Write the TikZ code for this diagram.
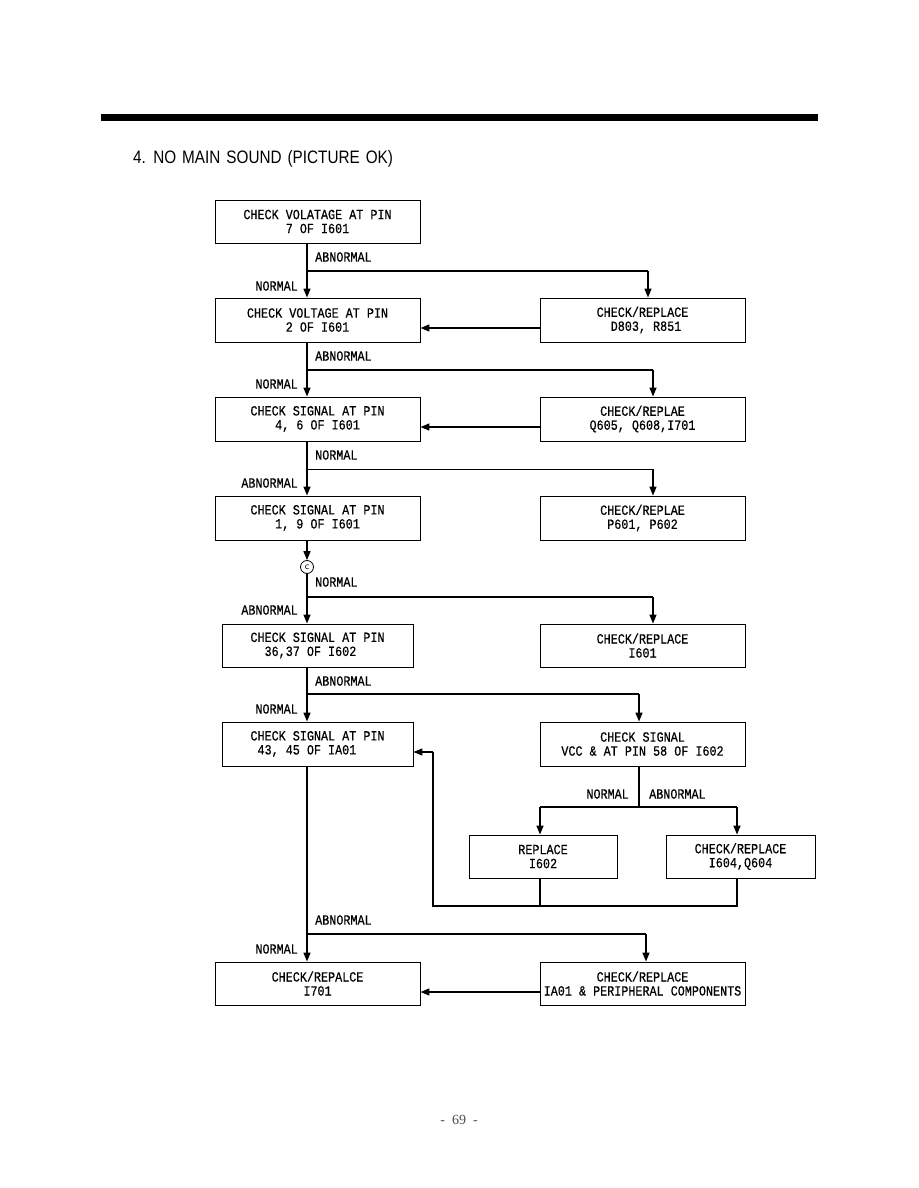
\documentclass[tikz,border=0pt]{standalone}
\usepackage{fontspec}
\usetikzlibrary{arrows.meta}
\newfontfamily\monofnt[FakeStretch=0.84,FakeBold=0.5]{Liberation Mono}
\newfontfamily\titlefnt[FakeStretch=0.85,WordSpace=1.4]{Liberation Sans}
\newfontfamily\pagefnt{Liberation Serif}
\begin{document}
\begin{tikzpicture}[x=1pt,y=-1pt,
  fbox/.style={draw, line width=0.9pt, inner sep=0pt, align=center,
    minimum width=205pt, minimum height=43pt,
    font=\monofnt\fontsize{14}{14}\selectfont},
  lbl/.style={inner sep=0pt, font=\monofnt\fontsize{14}{14}\selectfont},
  flow/.style={line width=1.5pt},
  arr/.style={line width=1.5pt, -{Triangle[length=9pt,width=7pt]}},
  thinflow/.style={line width=0.8pt}]
\useasboundingbox (0,0) rectangle (918,1188);
% top bar and title
\fill (101,114) rectangle (818,121);
\node[anchor=west, inner sep=0pt, font=\titlefnt\fontsize{18}{20}\selectfont] (title) at (133,159) {4. NO MAIN SOUND (PICTURE OK)};
% boxes
\node[fbox] (b1) at (317.5,221.5) {CHECK VOLATAGE AT PIN\\7 OF I601};
\node[fbox, minimum height=44pt] (b2) at (317.5,320) {CHECK VOLTAGE AT PIN\\2 OF I601};
\node[fbox, minimum height=44pt] (r1) at (642.5,320) {CHECK/REPLACE\\\hphantom{0}D803, R851};
\node[fbox, minimum height=44pt] (b3) at (317.5,419) {CHECK SIGNAL AT PIN\\4, 6 OF I601};
\node[fbox, minimum height=44pt] (r2) at (642.5,419) {CHECK/REPLAE\\Q605, Q608,I701};
\node[fbox, minimum height=44pt] (b4) at (317.5,518) {CHECK SIGNAL AT PIN\\1, 9 OF I601};
\node[fbox, minimum height=44pt] (r3) at (642.5,518) {CHECK/REPLAE\\P601, P602};
\node[fbox, minimum width=191pt] (b5) at (317.5,645.5) {CHECK SIGNAL AT PIN\\36,37 OF I602\hphantom{00}};
\node[fbox] (r4) at (642.5,645.5) {CHECK/REPLACE\\I601};
\node[fbox, minimum width=191pt, minimum height=44pt] (b6) at (317.5,744) {CHECK SIGNAL AT PIN\\43, 45 OF IA01\hphantom{000}};
\node[fbox, minimum height=44pt] (r5) at (642.5,744) {CHECK SIGNAL\\VCC \& AT PIN 58 OF I602};
\node[fbox, minimum width=148pt] (r6) at (543,856.5) {REPLACE\\I602};
\node[fbox, minimum width=149pt] (r7) at (740.5,856.5) {CHECK/REPLACE\\I604,Q604};
\node[fbox] (b7) at (317.5,983.5) {CHECK/REPALCE\\I701};
\node[fbox] (r8) at (642.5,983.5) {CHECK/REPLACE\\IA01 \& PERIPHERAL COMPONENTS};
% shadow edges
\foreach \n in {b1,b2,r1,b3,r2,b4,r3,b5,r4,b6,r5,r6,r7,b7,r8}{
  \draw[line width=1.9pt] (\n.north east) -- (\n.south east) -- (\n.south west);
}
% level 1
\coordinate (j1) at (307,271);
\coordinate (k1) at (648,271);
\draw[arr] (j1 |- b1.south) -- (j1 |- b2.north);
\draw[flow] (j1) -- (k1);
\draw[arr] (k1) -- (k1 |- r1.north);
\coordinate (h1) at (540,328);
\draw[arr] (h1) -- (h1 -| b2.east);
\node[lbl, anchor=west] (l1a) at (315,257) {ABNORMAL};
\node[lbl, anchor=east] (l1n) at (298,286) {NORMAL};
% level 2
\coordinate (j2) at (307,370);
\coordinate (k2) at (653,370);
\draw[arr] (j2 |- b2.south) -- (j2 |- b3.north);
\draw[flow] (j2) -- (k2);
\draw[arr] (k2) -- (k2 |- r2.north);
\coordinate (h2) at (540,427);
\draw[arr] (h2) -- (h2 -| b3.east);
\node[lbl, anchor=west] (l2a) at (315,356) {ABNORMAL};
\node[lbl, anchor=east] (l2n) at (298,384) {NORMAL};
% level 3
\coordinate (j3) at (307,469);
\coordinate (k3) at (653,469);
\draw[arr] (j3 |- b3.south) -- (j3 |- b4.north);
\draw[thinflow] (j3) -- (k3);
\draw[arr] (k3) -- (k3 |- r3.north);
\node[lbl, anchor=west] (l3n) at (315,455) {NORMAL};
\node[lbl, anchor=east] (l3a) at (298,483) {ABNORMAL};
% connector C
\node[draw, circle, line width=0.8pt, minimum size=13pt, inner sep=0pt, font=\sffamily\fontsize{10}{10}\selectfont] (cc) at (307,567) {c};
\draw[arr] (cc |- b4.south) -- (cc.north);
% level 4
\coordinate (j4) at (307,597);
\coordinate (k4) at (653,597);
\draw[arr] (cc.south) -- (j4 |- b5.north);
\draw[flow] (j4) -- (k4);
\draw[arr] (k4) -- (k4 |- r4.north);
\node[lbl, anchor=west] (l4n) at (315,582) {NORMAL};
\node[lbl, anchor=east] (l4a) at (298,610) {ABNORMAL};
% level 5
\coordinate (j5) at (307,694);
\coordinate (k5) at (639,694);
\draw[arr] (j5 |- b5.south) -- (j5 |- b6.north);
\draw[flow] (j5) -- (k5);
\draw[arr] (k5) -- (k5 |- r5.north);
\node[lbl, anchor=west] (l5a) at (315,681) {ABNORMAL};
\node[lbl, anchor=east] (l5n) at (298,709) {NORMAL};
% R5 split
\coordinate (s5) at (639,807);
\coordinate (s6) at (540,807);
\coordinate (s7) at (737,807);
\draw[flow] (s5 |- r5.south) -- (s5);
\draw[flow] (s6) -- (s7);
\draw[arr] (s6) -- (s6 |- r6.north);
\draw[arr] (s7) -- (s7 |- r7.north);
\node[lbl, anchor=east] (l6n) at (629,794) {NORMAL};
\node[lbl, anchor=west] (l6a) at (649,794) {ABNORMAL};
% feedback loop
\coordinate (f6) at (540,906);
\coordinate (f7) at (737,906);
\coordinate (fl) at (433,906);
\coordinate (fu) at (433,752);
\draw[line width=1.2pt] (f6 |- r6.south) -- (f6);
\draw[line width=1.2pt] (f7 |- r7.south) -- (f7) -- (fl) -- (fu);
\draw[line width=1.2pt, -{Triangle[length=9pt,width=7pt]}] (fu) -- (fu -| b6.east);
% level 6
\coordinate (j6) at (307,934);
\coordinate (k6) at (646,934);
\draw[arr] (j6 |- b6.south) -- (j6 |- b7.north);
\draw[flow] (j6) -- (k6);
\draw[arr] (k6) -- (k6 |- r8.north);
\coordinate (h8) at (540,992);
\draw[arr] (h8) -- (h8 -| b7.east);
\node[lbl, anchor=west] (l7a) at (315,920) {ABNORMAL};
\node[lbl, anchor=east] (l7n) at (298,949) {NORMAL};
% page number
\node[text=black!70, font=\pagefnt\fontsize{14}{14}\selectfont] (pg) at (459,1120) {-\ \ 69\ \ -};
\end{tikzpicture}
\end{document}
